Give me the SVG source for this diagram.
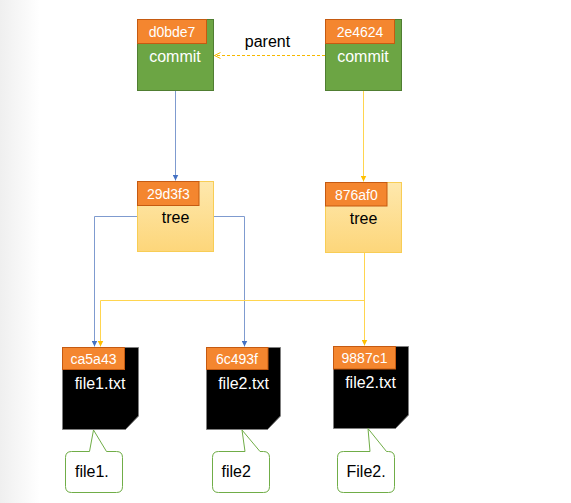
<svg xmlns="http://www.w3.org/2000/svg" width="571" height="503" viewBox="0 0 571 503">
<defs>
  <linearGradient id="edge" x1="0" y1="0" x2="1" y2="0">
    <stop offset="0" stop-color="#efefef"/>
    <stop offset="1" stop-color="#ffffff"/>
  </linearGradient>
  <linearGradient id="treeFill" x1="0" y1="0" x2="0" y2="1">
    <stop offset="0" stop-color="#fee8ad"/>
    <stop offset="1" stop-color="#fdd67a"/>
  </linearGradient>
  <marker id="arrBlue" viewBox="0 0 6 6" refX="6" refY="3" markerWidth="6" markerHeight="6" markerUnits="userSpaceOnUse" orient="auto">
    <path d="M0,0 L6,3 L0,6 Z" fill="#4472c4"/>
  </marker>
  <marker id="arrYellow" viewBox="0 0 6 6" refX="6" refY="3" markerWidth="6" markerHeight="6" markerUnits="userSpaceOnUse" orient="auto">
    <path d="M0,0 L6,3 L0,6 Z" fill="#ffc000"/>
  </marker>
  <marker id="arrOpen" viewBox="0 0 8 8" refX="7" refY="4" markerWidth="8" markerHeight="8" markerUnits="userSpaceOnUse" orient="auto">
    <path d="M1,1 L7,4 L1,7" fill="none" stroke="#f5b800" stroke-width="1"/>
  </marker>
</defs>
<style>
  text { font-family: "Liberation Sans", Arial, sans-serif; }
  .commit { fill: #6ca544; stroke: #507e32; stroke-width: 1; }
  .tag { fill: #f4862f; stroke: #c55a11; stroke-width: 1; }
  .tree { fill: url(#treeFill); stroke: #f8cd55; stroke-width: 1; }
  .file { fill: #000000; stroke: #7f7f7f; stroke-width: 1; }
  .callout { fill: #ffffff; stroke: #70ad47; stroke-width: 1; }
  .hash { fill: #ffffff; font-size: 14px; text-anchor: middle; }
  .wlabel { fill: #ffffff; font-size: 16px; text-anchor: middle; }
  .blabel { fill: #000000; font-size: 16px; text-anchor: middle; }
  .note { fill: #000000; font-size: 16px; }
  .blue { fill: none; stroke: #7f9bcf; stroke-width: 1; }
  .yellow { fill: none; stroke: #ffd54f; stroke-width: 1; }
</style>
<rect x="0" y="0" width="571" height="503" fill="#ffffff"/>
<rect x="0" y="0" width="40" height="503" fill="url(#edge)"/>

<g id="connectors">
  <path class="blue" d="M175.5,90.5 V180.5" stroke="#4472c4" marker-end="url(#arrBlue)"/>
  <path class="yellow" d="M363.5,90.5 V181.5" stroke="#ffc000" marker-end="url(#arrYellow)"/>
  <path d="M325,55.5 H214.5" fill="none" stroke="#f5b800" stroke-width="1" stroke-dasharray="3,2" marker-end="url(#arrOpen)"/>
  <path class="blue" d="M137.5,216.5 H94.5 V346.5" marker-end="url(#arrBlue)"/>
  <path class="blue" d="M213.5,216.5 H244.5 V346.5" marker-end="url(#arrBlue)"/>
  <path class="yellow" d="M364.5,253 V345.5" marker-end="url(#arrYellow)"/>
  <path class="yellow" d="M364.5,300.5 H100.5 V346.5" marker-end="url(#arrYellow)"/>
</g>
<text x="267.5" y="47" class="blabel">parent</text>

<g id="commit-d0bde7">
  <rect class="commit" x="137.5" y="19.5" width="76" height="71"/>
  <rect class="tag" x="137.5" y="19.5" width="69" height="24"/>
  <text x="172" y="36.5" class="hash">d0bde7</text>
  <text x="175" y="61.5" class="wlabel">commit</text>
</g>

<g id="commit-2e4624">
  <rect class="commit" x="325.5" y="19.5" width="76" height="71"/>
  <rect class="tag" x="325.5" y="19.5" width="69" height="24"/>
  <text x="360" y="36.5" class="hash">2e4624</text>
  <text x="363" y="61.5" class="wlabel">commit</text>
</g>

<g id="tree-29d3f3">
  <rect class="tree" x="137.5" y="181.5" width="76" height="70"/>
  <rect class="tag" x="137.5" y="181.5" width="61.5" height="24"/>
  <text x="168.3" y="198.5" class="hash">29d3f3</text>
  <text x="175.5" y="222.5" class="blabel">tree</text>
</g>

<g id="tree-876af0">
  <rect class="tree" x="325.5" y="182.5" width="76" height="70"/>
  <rect class="tag" x="325.5" y="182.5" width="61.5" height="23.5"/>
  <text x="356.3" y="199.5" class="hash">876af0</text>
  <text x="363.5" y="223.5" class="blabel">tree</text>
</g>

<g id="file-ca5a43">
  <path class="file" d="M62.5,347.5 H138.5 V416 L125.5,429.5 H62.5 Z"/>
  <rect class="tag" x="62.5" y="347.5" width="62" height="22"/>
  <text x="93.5" y="364" class="hash">ca5a43</text>
  <text x="100" y="388.5" class="wlabel">file1.txt</text>
</g>

<g id="file-6c493f">
  <path class="file" d="M206.5,347.5 H280.5 V416 L267.5,429.5 H206.5 Z"/>
  <rect class="tag" x="206.5" y="347.5" width="61.5" height="22"/>
  <text x="237" y="364" class="hash">6c493f</text>
  <text x="243.5" y="388.5" class="wlabel">file2.txt</text>
</g>

<g id="file-9887c1">
  <path class="file" d="M333.5,346.5 H408.5 V415 L395.5,428.5 H333.5 Z"/>
  <rect class="tag" x="333.5" y="346.5" width="62" height="22.5"/>
  <text x="364.5" y="363" class="hash">9887c1</text>
  <text x="370.5" y="387.5" class="wlabel">file2.txt</text>
</g>

<g id="callout-file1">
  <path class="callout" d="M71.5,451.5 H89.5 L93.5,430 L106.5,451.5 H116.5 Q122.5,451.5 122.5,457.5 V486.5 Q122.5,492.5 116.5,492.5 H71.5 Q65.5,492.5 65.5,486.5 V457.5 Q65.5,451.5 71.5,451.5 Z"/>
  <text x="75" y="477" class="note">file1.</text>
</g>

<g id="callout-file2">
  <path class="callout" d="M218.5,451.5 H245 L242,430 L260,451.5 H263.5 Q269.5,451.5 269.5,457.5 V486.5 Q269.5,492.5 263.5,492.5 H218.5 Q212.5,492.5 212.5,486.5 V457.5 Q212.5,451.5 218.5,451.5 Z"/>
  <text x="221.5" y="477" class="note">file2</text>
</g>

<g id="callout-file3">
  <path class="callout" d="M343.5,451.5 H370 L368,428.5 L386.5,451.5 H388.5 Q394.5,451.5 394.5,457.5 V486.5 Q394.5,492.5 388.5,492.5 H343.5 Q337.5,492.5 337.5,486.5 V457.5 Q337.5,451.5 343.5,451.5 Z"/>
  <text x="346.5" y="477" class="note">File2.</text>
</g>
</svg>
